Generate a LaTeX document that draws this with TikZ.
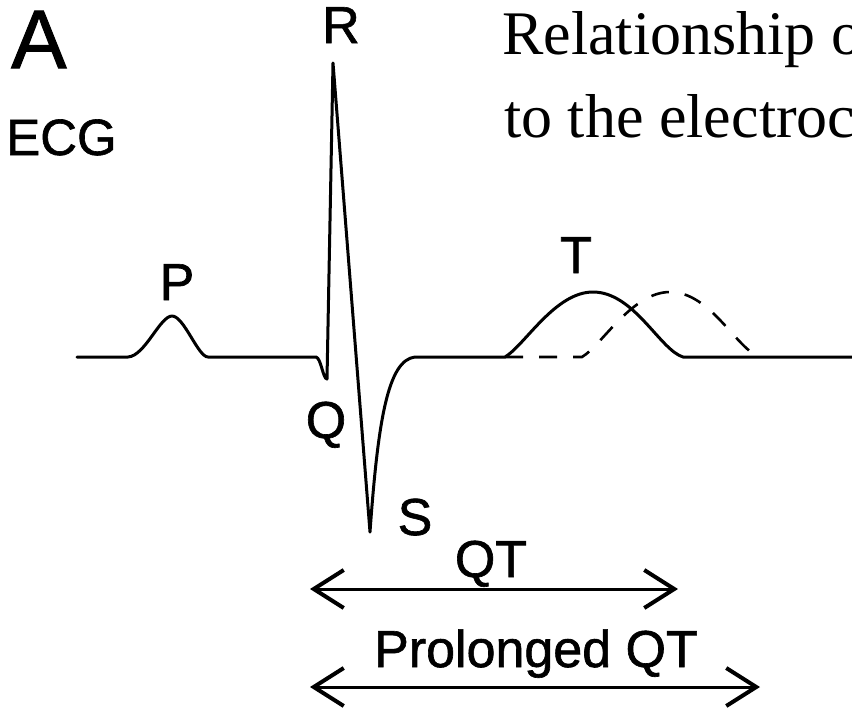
\documentclass[tikz,border=0pt]{standalone}
\usepackage{fontspec}
\setmainfont{Liberation Serif}
\newfontfamily\labfont[FakeBold=1.2]{Liberation Sans}
\usetikzlibrary{arrows.meta}
\begin{document}
\begin{tikzpicture}[x=1pt,y=-1pt,
  wave/.style={line width=3pt, line join=round, line cap=round},
  dashwave/.style={line width=2.6pt, dash pattern=on 18pt off 16pt},
  lbl/.style={font=\labfont\fontsize{52}{52}\selectfont, inner sep=0pt, anchor=base},
  ttl/.style={font=\fontsize{62}{62}\selectfont, inner sep=0pt, anchor=base west},
  barb/.tip={Straight Barb[length=30pt,width=38pt,line width=4pt]},
  dimarrow/.style={line width=3pt, barb-barb},
]
\useasboundingbox (0,0) rectangle (852,710);
\fill[white] (0,0) rectangle (852,710);

% title (cut at the right edge, as in the reference)
\begin{scope}
\clip (0,0) rectangle (852,710);
\node[ttl] (title1) at (502,54) {Relationship o};
\node[ttl] (title2) at (504,137) {to the electroc};
\end{scope}

% panel labels
\node[font=\labfont\fontsize{83}{83}\selectfont, inner sep=0pt, anchor=base west] (panelA) at (11,68) {A};
\node[font=\labfont\fontsize{51}{51}\selectfont, inner sep=0pt, anchor=base west] (ecg) at (6,155) {ECG};

% wave labels
\node[lbl] (lR) at (341,43) {R};
\node[lbl] (lP) at (177,300) {P};
\node[lbl] (lT) at (576,273) {T};
\node[lbl] (lQ) at (326,438) {Q};
\node[lbl] (lS) at (415,535) {S};

% ECG trace
\draw[wave] (77,357) -- (128,357)
  .. controls (145,356) and (160,316) .. (172,316)
  .. controls (184,316) and (198,357) .. (208,357)
  -- (316,357)
  .. controls (321,358) and (323,379) .. (327,379)
  -- (333,63) -- (370,532)
  .. controls (378,420) and (388,360) .. (415,357)
  -- (505,357)
  .. controls (525,345) and (555,292) .. (593,292)
  .. controls (634,292) and (660,350) .. (683,357)
  -- (852,357);

% prolonged T wave (dashed)
\draw[dashwave] (505,357) -- (582,357)
  .. controls (602,345) and (632,292) .. (670,292)
  .. controls (711,292) and (737,350) .. (760,357);

% interval arrows
\coordinate (qtL) at (310,589);
\coordinate (qtR) at (678,589);
\coordinate (pqtL) at (310,687);
\coordinate (pqtR) at (760,687);
\draw[dimarrow] (qtL) -- (qtR);
\draw[dimarrow] (pqtL) -- (pqtR);
\node[lbl] (lQT) at (491,577) {QT};
\node[lbl] (lPQT) at (536,667) {Prolonged QT};
\end{tikzpicture}
\end{document}
